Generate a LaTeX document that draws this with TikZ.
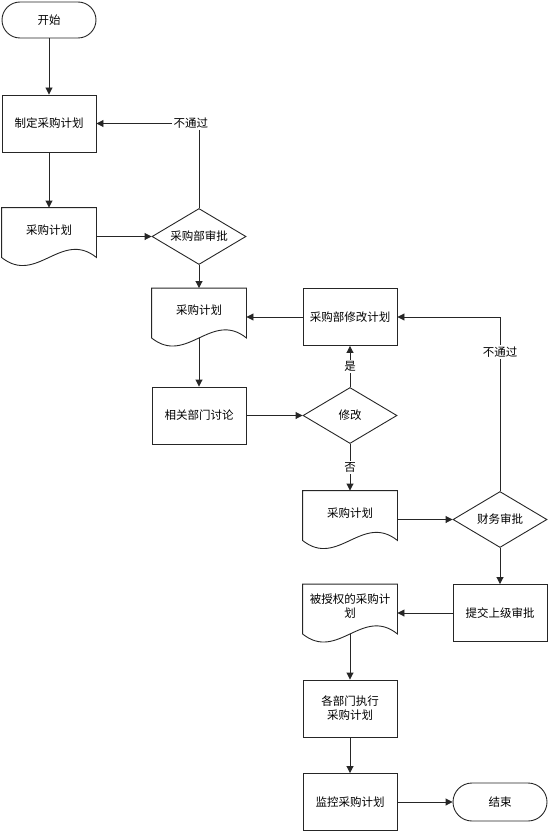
\documentclass[tikz,border=0pt]{standalone}
\usepackage{fontspec}
\setmainfont{Noto Sans CJK SC}
\usetikzlibrary{shapes.geometric,arrows.meta}

\begin{document}
\begin{tikzpicture}[x=1pt, y=-1pt,
    font=\fontsize{11.5}{14}\selectfont,
    line width=0.9pt, >={Triangle[length=7pt,width=7pt]},
    shapebox/.style={draw=black!85, minimum width=94pt, minimum height=57pt, inner sep=0pt, align=center},
    procbox/.style={shapebox, rectangle},
    termbox/.style={shapebox, rectangle, rounded corners=18pt, minimum height=36pt},
    decbox/.style={shapebox, diamond, aspect=1.68, minimum height=56pt},
    docbox/.style={rectangle, minimum width=94pt, minimum height=57pt, inner sep=0pt, text depth=14pt, align=center},
    flow/.style={draw=black!85, ->},
    tag/.style={fill=white, inner sep=1.5pt}]
    \useasboundingbox (0,0) rectangle (549,832);

    % 左列
    \node[termbox] (start) at (49, 20) {开始};
    \node[procbox] (plan) at (49, 123.5) {制定采购计划};
    \node[docbox] (docA) at (49, 236.5) {采购计划};
    \node[decbox] (chkA) at (199, 236.5) {采购部审批};

    % 中列
    \node[docbox] (docB) at (199, 317) {采购计划};
    \node[procbox] (revise) at (350, 317) {采购部修改计划};
    \node[procbox] (discuss) at (199, 415.5) {相关部门讨论};
    \node[decbox] (modify) at (350, 415.5) {修改};
    \node[docbox] (docC) at (350, 519.5) {采购计划};

    % 右列
    \node[decbox] (chkB) at (500, 519.5) {财务审批};
    \node[procbox] (submit) at (500, 613) {提交上级审批};
    \node[docbox] (docD) at (350, 613) {被授权的采购计\\划};
    \node[procbox] (execute) at (350, 708.5) {各部门执行\\采购计划};
    \node[procbox] (monitor) at (350, 802) {监控采购计划};
    \node[termbox, minimum height=38pt, rounded corners=19pt] (finish) at (500, 802) {结束};

    % 文档外形
    \foreach \d in {docA, docB, docC, docD}
        \draw[draw=black!85] (\d.north west) -- (\d.north east) -- ([yshift=8pt]\d.south east)
            .. controls +(-35,-28) and +(35,28) .. ([yshift=8pt]\d.south west) -- cycle;

    % 连线
    \draw[flow] (start) -- (plan);
    \draw[flow] (plan) -- (docA);
    \draw[flow] (docA.east) -- (chkA.west);
    \draw[flow] (chkA.north) |- node[tag, pos=0.54] {不通过} (plan.east);
    \draw[flow] (chkA.south) -- (docB.north);
    \draw[flow] (revise.west) -- (docB.east);
    \draw[flow] ([yshift=8pt]docB.south) -- (discuss.north);
    \draw[flow] (discuss.east) -- (modify.west);
    \draw[flow] (modify.north) -- node[tag] {是} (revise.south);
    \draw[flow] (modify.south) -- node[tag] {否} (docC.north);
    \draw[flow] (docC.east) -- (chkB.west);
    \draw[flow] (chkB.north) |- node[tag, pos=0.4] {不通过} (revise.east);
    \draw[flow] (chkB.south) -- (submit.north);
    \draw[flow] (submit.west) -- (docD.east);
    \draw[flow] ([yshift=8pt]docD.south) -- (execute.north);
    \draw[flow] (execute.south) -- (monitor.north);
    \draw[flow] (monitor.east) -- (finish.west);
\end{tikzpicture}
\end{document}
